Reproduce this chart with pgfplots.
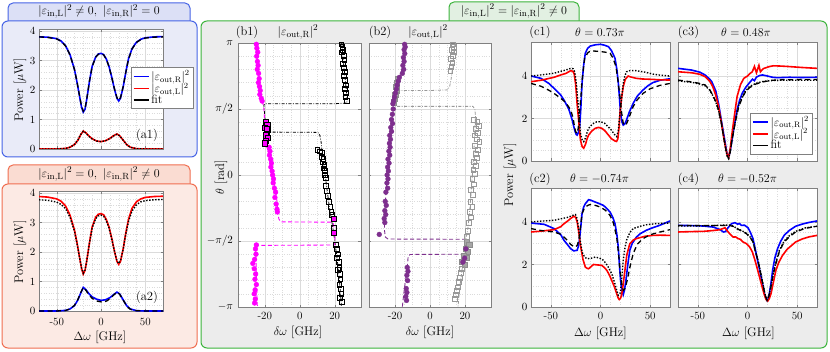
\documentclass[border=0pt]{standalone}
\usepackage{pgfplots}
\pgfplotsset{compat=1.18}

\definecolor{bordA}{RGB}{70,100,230}
\definecolor{boxA}{RGB}{233,235,248}
\definecolor{tabA}{RGB}{220,224,246}
\definecolor{bordB}{RGB}{240,110,80}
\definecolor{boxB}{RGB}{252,234,228}
\definecolor{tabB}{RGB}{250,220,210}
\definecolor{bordC}{RGB}{60,180,60}
\definecolor{boxC}{RGB}{236,236,236}
\definecolor{tabC}{RGB}{226,240,226}
\definecolor{mpurple}{RGB}{126,47,142}
\definecolor{mmag}{RGB}{255,0,255}

\newcommand\tkf{\fontsize{11}{12}\selectfont}
\newcommand\lbf{\fontsize{12.5}{14}\selectfont}
\newcommand\lgf{\fontsize{12}{13}\selectfont}
\newcommand\eout[1]{$|\varepsilon_{\mathrm{out},\mathrm{#1}}|^2$}

\pgfplotsset{
  base/.style={scale only axis, anchor=south west,
    axis background/.style={fill=white},
    axis line style={black!50}, tick style={black!50},
    grid=both, major grid style={black!14, line width=0.4pt},
    minor grid style={black!14, dotted, line width=0.4pt},
    tick align=inside, major tick length=2.5pt, minor tick length=0pt,
    ticklabel style={font=\tkf}, xticklabel style={yshift=-2pt}},
  pa/.style={base, width=124pt, height=119.5pt, xmin=-70, xmax=70, ymin=0, ymax=4.05,
    xtick={-50,0,50}, ytick={0,1,2,3,4}, minor x tick num=4, minor y tick num=4},
  pb/.style={base, width=122.5pt, height=264pt, xmin=-35, xmax=35, ymin=-1, ymax=1,
    xtick={-20,0,20}, xticklabels={-20,0,20}, ytick={-1,-0.5,0,0.5,1},
    minor x tick num=3, minor y tick num=4},
  pc/.style={base, width=139pt, height=119pt, xmin=-70, xmax=70, ymin=0, ymax=5.6,
    xtick={-50,0,50}, ytick={0,2,4}, minor x tick num=4, minor y tick num=3},
  thk/.style={line width=1.6pt},
  fdash/.style={black, line width=1.3pt, dash pattern=on 5pt off 3.5pt},
  fdot/.style={black, line width=1.4pt, dash pattern=on 1.4pt off 1.6pt},
  lgd/.style={legend style={font=\lgf, draw=black!50, fill=white, inner sep=1.5pt,
    row sep=-3pt, cells={anchor=west}, at={#1}, anchor=north west},
    legend image code/.code={\draw[##1] (0pt,0pt) -- (15pt,0pt);}},
}

\begin{document}
\begin{tikzpicture}[x=1pt,y=1pt]
\path[use as bounding box] (0,0) rectangle (830,351);

% panel frames
\draw[bordA, fill=tabA, line width=1pt, rounded corners=5pt] (8,322) rectangle (190,348);
\draw[bordA, fill=boxA, line width=1pt, rounded corners=6pt] (2,194) rectangle (197,330);
\draw[bordB, fill=tabB, line width=1pt, rounded corners=5pt] (8,160) rectangle (190,186);
\draw[bordB, fill=boxB, line width=1pt, rounded corners=6pt] (2,3) rectangle (197,167);
\draw[bordC, fill=tabC, line width=1pt, rounded corners=5pt] (449,322) rectangle (579,349);
\draw[bordC, fill=boxC, line width=1pt, rounded corners=6pt] (201,3) rectangle (827,330);

\node[font=\lbf] at (99,339.5) {$|\varepsilon_{\mathrm{in,L}}|^2\neq0,\ |\varepsilon_{\mathrm{in,R}}|^2=0$};
\node[font=\lbf] at (99,177) {$|\varepsilon_{\mathrm{in,L}}|^2=0,\ |\varepsilon_{\mathrm{in,R}}|^2\neq0$};
\node[font=\lbf] at (514,340) {$|\varepsilon_{\mathrm{in,L}}|^2=|\varepsilon_{\mathrm{in,R}}|^2\neq0$};

% ---------------- (a1)
\begin{axis}[pa, at={(39pt,202pt)}, xticklabels={}, lgd={(0.742,0.685)}]
\addlegendimage{blue, line width=1.6pt}\addlegendentry{\eout{R}}
\addlegendimage{red, line width=1.6pt}\addlegendentry{\eout{L}}
\addlegendimage{black, line width=1.6pt}\addlegendentry{fit}
\addplot[blue, thk, forget plot] coordinates {
(-70,3.80) (-60,3.79) (-50,3.74) (-45,3.66) (-40,3.50) (-35,3.20) (-30,2.70) (-27,2.25)
(-24,1.75) (-22,1.42) (-20,1.25) (-18,1.35) (-16,1.70) (-13,2.30) (-10,2.80) (-6,3.12)
(-3,3.22) (0,3.24) (3,3.20) (6,3.05) (9,2.80) (12,2.45) (15,2.05) (18,1.72) (20,1.63)
(22,1.72) (25,2.10) (28,2.60) (31,3.05) (35,3.40) (40,3.62) (45,3.72) (50,3.77) (60,3.80) (70,3.81)};
\addplot[fdash, forget plot] coordinates {
(-70,3.80) (-60,3.78) (-50,3.73) (-45,3.65) (-40,3.49) (-35,3.19) (-30,2.70) (-27,2.26)
(-24,1.77) (-22,1.45) (-20,1.28) (-18,1.37) (-16,1.71) (-13,2.30) (-10,2.79) (-6,3.11)
(-3,3.21) (0,3.23) (3,3.19) (6,3.04) (9,2.79) (12,2.45) (15,2.06) (18,1.74) (20,1.65)
(22,1.74) (25,2.11) (28,2.60) (31,3.04) (35,3.39) (40,3.61) (45,3.71) (50,3.76) (60,3.79) (70,3.80)};
\addplot[red, thk, forget plot] coordinates {
(-70,0.00) (-50,0.00) (-40,0.02) (-35,0.06) (-30,0.15) (-26,0.30) (-23,0.48) (-20,0.61)
(-17,0.55) (-14,0.45) (-10,0.35) (-5,0.27) (0,0.25) (5,0.28) (10,0.36) (14,0.45) (18,0.51)
(21,0.45) (25,0.30) (29,0.15) (33,0.06) (40,0.01) (50,0.00) (70,0.00)};
\addplot[fdot, forget plot] coordinates {
(-70,0.00) (-50,0.00) (-40,0.02) (-35,0.06) (-30,0.15) (-26,0.31) (-23,0.49) (-20,0.60)
(-17,0.54) (-14,0.44) (-10,0.34) (-5,0.27) (0,0.25) (5,0.28) (10,0.35) (14,0.44) (18,0.50)
(21,0.45) (25,0.30) (29,0.15) (33,0.06) (40,0.01) (50,0.00) (70,0.00)};
\node[font=\lbf] at (rel axis cs:0.87,0.11) {(a1)};
\end{axis}

% ---------------- (a2)
\begin{axis}[pa, at={(39pt,40pt)}, xticklabels={-50,0,50}, xticklabel style={yshift=-2pt}]
\addplot[red, thk] coordinates {
(-70,3.88) (-60,3.86) (-50,3.80) (-45,3.72) (-40,3.56) (-35,3.25) (-30,2.75) (-27,2.30)
(-24,1.78) (-22,1.45) (-20,1.25) (-18,1.38) (-16,1.72) (-13,2.32) (-10,2.85) (-6,3.18)
(-3,3.28) (0,3.30) (3,3.26) (6,3.10) (9,2.85) (12,2.48) (15,2.05) (18,1.68) (20,1.58)
(22,1.68) (25,2.10) (28,2.65) (31,3.10) (35,3.48) (40,3.70) (45,3.80) (50,3.85) (60,3.88) (70,3.89)};
\addplot[fdot] coordinates {
(-70,3.77) (-60,3.75) (-50,3.69) (-45,3.61) (-40,3.47) (-35,3.18) (-30,2.71) (-27,2.27)
(-24,1.78) (-22,1.46) (-20,1.28) (-18,1.39) (-16,1.72) (-13,2.30) (-10,2.81) (-6,3.13)
(-3,3.23) (0,3.25) (3,3.21) (6,3.06) (9,2.82) (12,2.46) (15,2.05) (18,1.70) (20,1.61)
(22,1.70) (25,2.09) (28,2.61) (31,3.03) (35,3.39) (40,3.60) (45,3.70) (50,3.74) (60,3.77) (70,3.78)};
\addplot[blue, thk] coordinates {
(-70,0.00) (-50,0.00) (-40,0.02) (-35,0.07) (-30,0.18) (-26,0.38) (-23,0.60) (-20,0.80)
(-17,0.72) (-14,0.60) (-10,0.48) (-5,0.40) (0,0.36) (5,0.38) (10,0.45) (14,0.55) (18,0.64)
(21,0.58) (25,0.38) (29,0.18) (33,0.07) (40,0.01) (50,0.00) (70,0.00)};
\addplot[fdash] coordinates {
(-70,0.00) (-50,0.00) (-40,0.02) (-35,0.07) (-30,0.19) (-26,0.40) (-23,0.62) (-20,0.80)
(-17,0.70) (-14,0.56) (-10,0.43) (-5,0.34) (0,0.31) (3,0.30) (7,0.35) (11,0.44) (14,0.53)
(18,0.64) (21,0.57) (25,0.37) (29,0.17) (33,0.06) (40,0.01) (50,0.00) (70,0.00)};
\node[font=\lbf] at (rel axis cs:0.87,0.11) {(a2)};
\end{axis}

% ---------------- (b1)
\begin{axis}[pb, at={(238.5pt,44pt)}, yticklabels={$-\pi$,$-\pi/2$,$0$,$\pi/2$,$\pi$},
  yticklabel style={xshift=-2pt}]
\addplot[only marks, mark=*, mark size=2.4pt, mark options={fill=mmag, draw=mmag}] coordinates {
(-24.8,0.99) (-24.5,0.96) (-24.0,0.93) (-24.6,0.90) (-24.2,0.86) (-23.8,0.83) (-24.3,0.80)
(-23.5,0.77) (-23.2,0.73) (-23.6,0.70) (-23.0,0.67) (-22.6,0.64) (-22.8,0.61) (-22.0,0.58) (-21.5,0.56)
(-17.5,0.21) (-17.0,0.18) (-17.3,0.15) (-16.6,0.12) (-16.2,0.09) (-16.5,0.06) (-15.8,0.03)
(-15.5,0.00) (-15.0,-0.03) (-15.2,-0.06) (-14.5,-0.10) (-13.8,-0.13) (-14.2,-0.17) (-13.5,-0.22)
(-13.0,-0.26) (-12.8,-0.28)
(-24.8,-0.53) (-25.3,-0.56) (-25.0,-0.60) (-25.8,-0.64) (-26.8,-0.67) (-26.0,-0.71) (-25.2,-0.75)
(-25.6,-0.79) (-24.8,-0.83) (-25.5,-0.87) (-26.0,-0.90) (-25.4,-0.94) (-25.8,-0.97)};
\addplot[only marks, mark=square, mark size=2.4pt, mark options={draw=black, line width=0.6pt}] coordinates {
(23.8,0.99) (24.3,0.97) (24.8,0.95) (24.2,0.93) (25.0,0.90) (25.5,0.87) (24.6,0.84) (25.2,0.81)
(25.8,0.78) (25.3,0.75) (25.9,0.72) (26.2,0.68) (25.6,0.65) (26.5,0.62) (26.0,0.59) (26.8,0.56)
(10.0,0.19) (11.5,0.18) (12.8,0.17) (12.5,0.14) (13.5,0.12) (13.0,0.10) (14.0,0.08) (13.6,0.05)
(14.5,0.03) (14.2,0.00) (15.0,-0.02)
(15.0,-0.08) (15.5,-0.12) (16.2,-0.16) (16.8,-0.20) (17.5,-0.24) (18.0,-0.28) (18.5,-0.30)
(19.3,-0.40) (20.5,-0.53) (21.0,-0.56) (21.8,-0.60) (21.2,-0.63) (22.2,-0.66) (22.6,-0.70)
(21.8,-0.72) (22.9,-0.75) (23.2,-0.79) (22.6,-0.83) (23.5,-0.86) (23.8,-0.90) (23.0,-0.93) (24.0,-0.96)};
\addplot[black, line width=0.8pt, dash pattern=on 3pt off 1.5pt on 0.8pt off 1.5pt] coordinates {
(24,1.0) (25,0.85) (26,0.72) (26.8,0.62) (27.2,0.57) (26.8,0.545) (20,0.54) (0,0.54)
(-20,0.539) (-20.5,0.53) (-20,0.45) (-19.5,0.38) (-19.2,0.33) (-18,0.325) (0,0.324) (9,0.323)
(10.5,0.32) (11.5,0.30) (12.2,0.25) (13,0.15) (14,0.05) (15,-0.05) (16,-0.15) (17,-0.25)
(18.3,-0.35) (19.5,-0.45) (20.5,-0.55) (21.5,-0.65) (22.3,-0.75) (23,-0.85) (23.6,-0.95) (23.8,-1)};
\addplot[mmag, line width=0.9pt, dash pattern=on 4pt off 2.5pt] coordinates {
(-25,1) (-24.5,0.9) (-23.8,0.8) (-23,0.7) (-22,0.6) (-21,0.54) (-20.5,0.5) (-20,0.4)
(-19.5,0.3) (-18.5,0.2) (-17,0.1) (-15.5,0) (-14,-0.1) (-13,-0.2) (-12.5,-0.28) (-12,-0.33)
(-11,-0.355) (0,-0.356) (18,-0.357) (19.2,-0.37) (19.8,-0.42) (20.2,-0.5) (20,-0.53) (0,-0.532)
(-24,-0.533) (-25.2,-0.55) (-25,-0.65) (-24.8,-0.75) (-24.6,-0.85) (-24.4,-0.95) (-24.2,-1)};
\addplot[only marks, mark=square*, mark size=2.6pt, mark options={fill=mmag, draw=black, line width=0.7pt}] coordinates {
(-19.5,0.40) (-18.5,0.38) (-19.8,0.36) (-18.2,0.34) (-19.0,0.32) (-19.6,0.30) (-18.4,0.28)
(-19.2,0.26) (-19.8,0.24) (-18.8,0.35) (19.6,-0.33) (19.6,-0.44)};
\end{axis}

% ---------------- (b2)
\begin{axis}[pb, at={(368.75pt,44pt)}, yticklabels={}]
\addplot[only marks, mark=square*, mark size=2.6pt, mark options={fill=black!35, draw=black!45, line width=0.6pt}] coordinates {
(-18.3,0.73) (-18.8,0.70) (-19.3,0.67) (-19.0,0.64) (-19.8,0.61) (-20.2,0.58) (-20.8,0.55)
(21.0,-0.51) (22.5,-0.53) (20.5,-0.56) (21.5,-0.58) (19.5,-0.61) (20.8,-0.63) (18.5,-0.66) (19.8,-0.68)};
\addplot[only marks, mark=*, mark size=2.4pt, mark options={fill=mpurple, draw=mpurple}] coordinates {
(-14.5,0.99) (-14.2,0.97) (-14.8,0.95) (-14.4,0.92) (-15.2,0.89) (-14.8,0.86) (-15.5,0.83)
(-15.0,0.80) (-15.8,0.77)
(-17.5,0.74) (-18.2,0.71) (-18.8,0.68) (-19.2,0.65) (-19.8,0.62) (-20.3,0.59) (-20.8,0.56) (-21.2,0.54)
(-21.0,0.50) (-21.5,0.46) (-22.0,0.42) (-21.4,0.39) (-22.4,0.36) (-22.0,0.33) (-23.0,0.30)
(-22.6,0.27) (-23.2,0.24) (-22.8,0.21) (-23.5,0.18) (-23.0,0.15) (-24.0,0.12) (-23.4,0.09)
(-24.2,0.06) (-23.8,0.03) (-24.5,0.00) (-24.0,-0.03) (-24.6,-0.06) (-24.2,-0.10) (-25.2,-0.13)
(-25.6,-0.20) (-25.0,-0.23) (-25.8,-0.27) (-25.3,-0.30) (-26.2,-0.33) (-25.8,-0.36) (-29.0,-0.45)
(-13.0,-0.70) (-12.6,-0.73) (-13.2,-0.76) (-12.8,-0.80) (-13.6,-0.86) (-13.2,-0.89) (-13.8,-0.92) (-13.4,-0.95)
(20.5,-0.56) (19.8,-0.63) (18.8,-0.66)};
\addplot[only marks, mark=square, mark size=2.4pt, mark options={draw=black!40, line width=0.6pt}] coordinates {
(13.0,0.99) (13.5,0.97) (12.5,0.95) (13.8,0.93) (13.2,0.90) (12.0,0.88) (12.8,0.85) (12.2,0.82) (11.6,0.79)
(25.0,0.42) (27.0,0.40) (28.0,0.37) (26.0,0.35) (27.5,0.32) (25.5,0.30) (26.8,0.27) (28.2,0.25)
(25.8,0.22) (27.2,0.19) (26.0,0.16) (26.8,0.13) (25.2,0.10) (26.3,0.07) (24.8,0.04) (25.5,0.01)
(24.2,-0.03) (25.0,-0.07) (23.5,-0.11) (24.6,-0.15) (23.0,-0.20) (24.2,-0.24) (22.6,-0.28)
(23.5,-0.32) (22.0,-0.36) (21.6,-0.42) (21.0,-0.47)
(18.0,-0.71) (17.5,-0.74) (17.0,-0.78) (16.5,-0.81) (16.0,-0.85) (15.2,-0.88) (14.6,-0.91) (14.2,-0.94)};
\addplot[black!40, line width=0.8pt, dash pattern=on 3pt off 1.5pt on 0.8pt off 1.5pt] coordinates {
(14.3,1.0) (13.5,0.9) (12.8,0.8) (12.0,0.72) (11.2,0.67) (10.0,0.645) (0,0.64) (-18.0,0.64)
(-19.0,0.6) (-20.0,0.55) (-20.4,0.525) (-19,0.52) (0,0.52) (24.5,0.52) (25.6,0.5) (26,0.45)
(25.5,0.3) (25,0.15) (24.2,0) (23.4,-0.15) (22.5,-0.3) (21.5,-0.42) (20.6,-0.48) (20.2,-0.52)
(19.5,-0.6) (18.5,-0.7) (17.5,-0.8) (16.7,-0.9) (16,-1)};
\addplot[mpurple, line width=0.9pt, dash pattern=on 4pt off 2.5pt] coordinates {
(-14.7,1) (-15.5,0.85) (-16.5,0.77) (-18,0.7) (-19.5,0.62) (-20.5,0.55) (-21,0.5) (-21.8,0.4)
(-22.5,0.3) (-23.2,0.2) (-23.8,0.1) (-24.4,0) (-25,-0.1) (-25.5,-0.2) (-26,-0.3) (-26,-0.42)
(-25.5,-0.47) (-24,-0.485) (0,-0.486) (20.2,-0.487) (20.8,-0.5) (21,-0.56) (20.5,-0.6) (0,-0.601)
(-11.4,-0.602) (-12.5,-0.62) (-13,-0.7) (-14,-0.8) (-15,-0.9) (-15.8,-1)};
\end{axis}

% ---------------- (c1)
\begin{axis}[pc, at={(531pt,190pt)}, xticklabels={}]
\addplot[blue, thk] coordinates {
(-70,4.00) (-60,3.89) (-52,3.65) (-46.8,3.42) (-40,3.10) (-36.8,2.87) (-32,2.45) (-28.5,1.93)
(-26,1.45) (-24.5,1.25) (-23.6,1.22) (-22.2,1.35) (-21,1.6) (-19.8,2.5) (-18.6,3.65) (-17,4.5)
(-15.3,5.07) (-13,5.3) (-10.3,5.41) (-5,5.47) (0,5.49) (4,5.45) (8,5.38) (11,5.2) (13,5.0)
(14.6,4.83) (16.5,4.3) (18,3.65) (19.2,2.9) (20.2,2.24) (21.5,1.85) (22.9,1.69) (24.5,1.75)
(26.2,1.93) (29,2.3) (32.9,2.71) (37,3.05) (42.8,3.34) (48,3.55) (52.8,3.69) (60,3.80) (70,3.87)};
\addplot[red, thk] coordinates {
(-70,3.73) (-60,3.80) (-46.8,3.94) (-40,4.05) (-35,4.12) (-30,4.25) (-27.8,4.22) (-26.5,4.10)
(-25,3.6) (-23.6,2.71) (-22,1.9) (-20.2,0.99) (-18.5,0.68) (-16.9,0.60) (-15,0.8) (-13.5,1.05)
(-12,1.22) (-9,1.40) (-5.3,1.54) (-2,1.58) (1.3,1.54) (4.5,1.42) (8,1.22) (11,1.05) (14.6,0.94)
(16.2,0.92) (17.5,1.05) (18.7,1.6) (19.6,2.24) (21.2,2.95) (22.9,3.5) (25,3.85) (27.9,4.0)
(30,3.96) (36,3.89) (42,3.86) (52.8,3.84) (60,3.82) (70,3.81)};
\addplot[fdash] coordinates {
(-70,3.65) (-60,3.52) (-52,3.33) (-46.8,3.18) (-40,2.95) (-35,2.75) (-30,2.40) (-27.5,2.0)
(-26,1.55) (-24.8,1.35) (-23.6,1.30) (-22.4,1.55) (-21.2,2.2) (-20,2.87) (-18.5,3.8) (-17,4.45)
(-16,4.83) (-13,5.08) (-10.3,5.18) (-5,5.17) (0,5.15) (5,5.12) (9.7,5.07) (12.5,4.85) (15.6,4.44)
(17.5,3.8) (19.6,3.03) (21.2,2.3) (22.9,1.77) (24.2,1.68) (25.6,1.69) (28,1.95) (32.9,2.56)
(37,2.88) (42.8,3.18) (50,3.40) (60,3.56) (70,3.65)};
\addplot[fdot] coordinates {
(-70,4.00) (-60,4.05) (-46.8,4.13) (-40,4.22) (-35,4.28) (-30,4.36) (-27.5,4.34) (-26,4.2)
(-24.5,3.7) (-22.9,2.87) (-21.3,2.0) (-20.2,1.30) (-18.5,1.0) (-16.9,0.91) (-15,1.1) (-13.5,1.35)
(-12,1.54) (-8,1.75) (-4,1.84) (0,1.85) (4,1.78) (8,1.6) (11,1.45) (14,1.25) (16.3,1.15)
(17.8,1.4) (19.6,2.24) (21.2,2.95) (22.9,3.65) (24.5,4.0) (26.2,4.2) (30,4.26) (36,4.25)
(45,4.18) (52.8,4.09) (60,4.04) (70,4.00)};
\end{axis}

% ---------------- (c2)
\begin{axis}[pc, at={(531pt,44pt)}, xticklabels={-50,0,50}]
\addplot[blue, thk] coordinates {
(-70,3.95) (-56.7,3.89) (-46.8,3.69) (-40,3.40) (-36.8,3.14) (-33,2.92) (-30.2,2.75) (-26.9,2.64)
(-23.5,2.67) (-22,2.9) (-20.9,3.29) (-19.6,3.9) (-18.6,4.39) (-17,4.7) (-15.3,4.86) (-12,5.05)
(-9.5,5.02) (-7,4.97) (-2,4.88) (3,4.78) (6,4.65) (9.6,4.47) (12.5,4.2) (14.6,3.92) (16.5,3.4)
(17.9,2.82) (19.2,1.9) (20.2,1.25) (21.5,0.8) (22.9,0.58) (24.2,0.8) (25.6,1.25) (27.5,2.0)
(29.5,2.67) (32,3.0) (36.2,3.29) (40,3.45) (46.1,3.61) (52,3.72) (59.4,3.84) (65,3.95) (70,4.05)};
\addplot[red, thk] coordinates {
(-70,3.53) (-60,3.57) (-46.8,3.64) (-40,3.78) (-36.8,3.92) (-33,4.05) (-30.2,4.16) (-26.9,4.27)
(-25,4.22) (-23.5,4.0) (-21.8,3.5) (-20.2,2.9) (-17.6,2.23) (-15.3,1.88) (-13.5,1.82) (-12,1.80)
(-9.5,1.9) (-7,2.0) (-3,1.98) (1.3,1.96) (4,1.85) (6.3,1.73) (9,1.5) (11.3,1.25) (14,0.95)
(16.3,0.63) (17.8,0.42) (18.9,0.35) (20,0.40) (21.2,0.55) (22.8,1.05) (24.6,1.73) (26.5,2.45)
(29.5,2.98) (33,3.15) (36.2,3.22) (45,3.33) (52.8,3.37) (60,3.38) (70,3.37)};
\addplot[fdash] coordinates {
(-70,3.69) (-60,3.60) (-46.8,3.53) (-40,3.42) (-36.8,3.29) (-33,3.12) (-30.2,2.95) (-27.5,2.86)
(-25.2,2.82) (-23.5,2.9) (-21.9,3.14) (-20.2,3.75) (-18.6,4.39) (-16.5,4.62) (-15.3,4.7)
(-12.5,4.79) (-10.3,4.82) (-5,4.78) (0,4.70) (5,4.55) (9.6,4.31) (13,3.95) (16.3,3.29) (18.2,2.5)
(19.6,1.73) (21.2,1.15) (22.9,0.78) (24.5,0.85) (26.9,1.25) (29.5,1.85) (32.9,2.51) (37,2.95)
(42.8,3.22) (50,3.40) (60,3.53) (70,3.64)};
\addplot[fdot] coordinates {
(-70,4.00) (-60,4.04) (-46.8,4.08) (-40,4.15) (-33,4.22) (-30.2,4.27) (-27,4.33) (-25.2,4.35)
(-23.5,4.15) (-21.9,3.61) (-20,3.0) (-18.6,2.59) (-16,2.35) (-13.6,2.27) (-9,2.3) (-5.3,2.35)
(-1,2.3) (3,2.2) (7,1.95) (11.3,1.57) (14.5,1.1) (16.5,0.75) (17.9,0.55) (19.6,0.62) (20.2,0.78)
(21.5,1.4) (22.9,2.2) (24.5,2.75) (26.2,3.14) (29.5,3.5) (32.9,3.69) (40,3.80) (46.1,3.87)
(55,3.92) (70,3.95)};
\end{axis}

% ---------------- (c3)
\begin{axis}[pc, at={(678pt,190pt)}, xticklabels={}, yticklabels={}, lgd={(0.52,0.405)}]
\addlegendimage{blue, line width=1.6pt}\addlegendentry{\eout{R}}
\addlegendimage{red, line width=1.6pt}\addlegendentry{\eout{L}}
\addlegendimage{black, line width=1.6pt}\addlegendentry{fit}
\addplot[blue, thk, forget plot] coordinates {
(-70,4.36) (-56.4,4.28) (-48,4.18) (-42.8,4.05) (-38,3.85) (-36,3.73) (-32,3.3) (-29.2,2.71)
(-26.5,1.95) (-24.1,1.30) (-22.3,0.8) (-20.7,0.36) (-19,0.20) (-17.5,0.45) (-15.6,0.99) (-13,1.75)
(-10.5,2.4) (-8,2.85) (-5.4,3.18) (-2,3.45) (1.4,3.65) (5,3.85) (7,3.78) (9,3.95) (12,4.02)
(15,4.05) (20,4.0) (25.1,3.94) (30,3.92) (42.1,3.94) (55,3.93) (70,3.94)};
\addplot[red, thk, forget plot] coordinates {
(-70,4.2) (-56,4.15) (-48,4.08) (-42.8,3.97) (-38,3.75) (-35,3.5) (-32,3.1) (-29.2,2.56)
(-26.5,1.85) (-24.1,1.15) (-22,0.6) (-20.5,0.3) (-19,0.17) (-17.5,0.55) (-15.6,1.30) (-13,2.2)
(-10.5,3.03) (-7,3.6) (-3.7,3.89) (0,4.0) (2,4.1) (4.8,4.2) (7,4.45) (9,4.15) (11.5,4.5)
(13,4.2) (16,4.35) (21.7,4.44) (26,4.48) (32,4.47) (40,4.45) (55,4.40) (70,4.36)};
\addplot[fdash, forget plot] coordinates {
(-70,3.81) (-56,3.72) (-48,3.65) (-42.8,3.58) (-38,3.35) (-35,3.1) (-32,2.8) (-29.2,2.4)
(-26.5,1.85) (-24.1,1.15) (-22,0.6) (-20.5,0.25) (-19,0.12) (-17.5,0.4) (-15.6,0.99) (-12,1.9)
(-8.8,2.56) (-5,3.0) (-2,3.26) (2,3.45) (8.2,3.62) (15,3.72) (25,3.8) (35,3.82) (50,3.83) (70,3.84)};
\addplot[fdot, forget plot] coordinates {
(-70,3.77) (-56,3.70) (-48,3.62) (-42.8,3.55) (-38,3.33) (-35,3.08) (-32,2.78) (-29.2,2.38)
(-26.5,1.83) (-24.1,1.14) (-22,0.58) (-20.5,0.24) (-19,0.12) (-17.5,0.42) (-15.6,1.02) (-12,1.95)
(-8.8,2.62) (-5,3.06) (-2,3.30) (2,3.50) (8.2,3.65) (15,3.74) (25,3.79) (35,3.80) (50,3.80) (70,3.80)};
\end{axis}

% ---------------- (c4)
\begin{axis}[pc, at={(678pt,44pt)}, xticklabels={-50,0,50}, yticklabels={}]
\addplot[blue, thk] coordinates {
(-70,3.84) (-55,3.83) (-44.2,3.81) (-34.3,3.76) (-27.6,3.64) (-24.3,3.53) (-22,3.55) (-20.3,3.69)
(-18,3.82) (-16,3.92) (-12.7,3.97) (-10,3.90) (-8,3.93) (-6.1,3.84) (-3,3.85) (0.5,3.73) (3,3.5)
(5.5,3.22) (7.5,2.8) (9.4,2.35) (11.5,1.9) (13.7,1.41) (15.5,1.0) (17.1,0.63) (18.5,0.40)
(19.7,0.31) (21,0.40) (22,0.63) (23.6,1.1) (25.3,1.73) (27.5,2.3) (30.3,2.75) (33.5,3.1)
(36.9,3.37) (42,3.6) (48.5,3.8) (55,3.9) (62,3.98) (70,4.05)};
\addplot[red, thk] coordinates {
(-70,3.53) (-55,3.55) (-44.2,3.56) (-34.3,3.60) (-27.6,3.64) (-22.7,3.73) (-21,3.62) (-19.4,3.53)
(-17,3.40) (-14.4,3.29) (-12,3.30) (-9.4,3.22) (-7,3.18) (-4.5,3.06) (-1,2.98) (2.2,2.82)
(4.8,2.6) (7.1,2.27) (9.6,1.85) (12.1,1.41) (14.7,0.95) (17.1,0.55) (18.8,0.35) (20.4,0.28)
(22,0.40) (23.7,0.63) (26,1.15) (28.6,1.73) (31.5,2.1) (35.3,2.43) (40,2.72) (48.5,3.06)
(55,3.2) (62,3.3) (70,3.37)};
\addplot[fdash] coordinates {
(-70,3.84) (-50,3.84) (-35,3.84) (-25,3.84) (-17.7,3.84) (-14,3.78) (-11,3.69) (-6,3.58)
(-1.1,3.45) (3,3.25) (5.5,3.06) (8,2.6) (10.5,2.2) (13,1.65) (15.4,1.1) (17.5,0.6) (19.7,0.31)
(21.5,0.5) (23.6,0.94) (26,1.55) (28.6,2.04) (32,2.6) (36.9,3.06) (42,3.3) (48.5,3.53) (58,3.7) (70,3.8)};
\addplot[fdot] coordinates {
(-70,3.81) (-50,3.82) (-35,3.83) (-25,3.85) (-17.7,3.86) (-14,3.80) (-11,3.70) (-6,3.60)
(-1.1,3.47) (3,3.28) (5.5,3.08) (8,2.62) (10.5,2.22) (13,1.68) (15.4,1.12) (17.5,0.62) (19.7,0.32)
(21.5,0.52) (23.6,0.98) (26,1.6) (28.6,2.1) (32,2.66) (36.9,3.1) (42,3.35) (48.5,3.56) (58,3.72) (70,3.80)};
\end{axis}

% labels
\node[font=\lbf, rotate=90] at (20,261) {Power [$\mu$W]};
\node[font=\lbf, rotate=90] at (20,99) {Power [$\mu$W]};
\node[font=\lbf] at (100,14) {$\Delta\omega$ [GHz]};
\node[font=\lbf] at (247,318.5) {(b1)};
\node[font=\lbf] at (298,319) {\eout{R}};
\node[font=\lbf] at (380,318.5) {(b2)};
\node[font=\lbf] at (428,319) {\eout{L}};
\node[font=\lbf, rotate=90] at (221,174) {$\theta$ [rad]};
\node[font=\lbf] at (298,19) {$\delta\omega$ [GHz]};
\node[font=\lbf] at (430,19) {$\delta\omega$ [GHz]};
\node[font=\lbf] at (540,318.5) {(c1)};
\node[font=\lbf] at (600,318.5) {$\theta=0.73\pi$};
\node[font=\lbf] at (688.5,318.5) {(c3)};
\node[font=\lbf] at (746,318.5) {$\theta=0.48\pi$};
\node[font=\lbf] at (540,172) {(c2)};
\node[font=\lbf] at (599.5,172) {$\theta=-0.74\pi$};
\node[font=\lbf] at (688.5,172) {(c4)};
\node[font=\lbf] at (747.5,172) {$\theta=-0.52\pi$};
\node[font=\lbf] at (600.5,18) {$\Delta\omega$ [GHz]};
\node[font=\lbf] at (748.5,18) {$\Delta\omega$ [GHz]};
\node[font=\lbf, rotate=90] at (510,176) {Power [$\mu$W]};
\end{tikzpicture}
\end{document}
